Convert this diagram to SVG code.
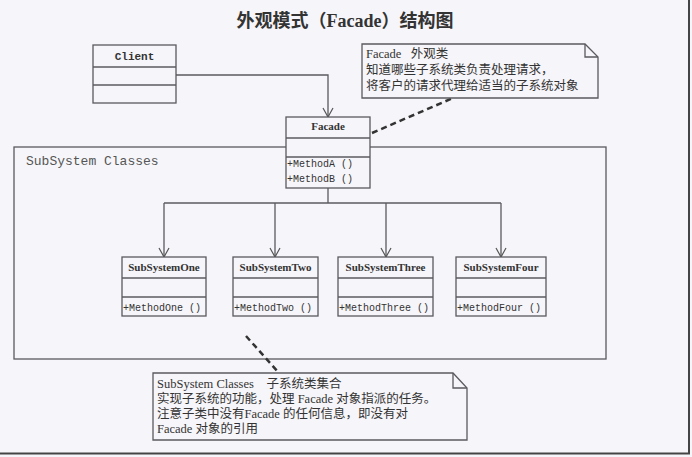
<svg xmlns="http://www.w3.org/2000/svg" width="692" height="457" viewBox="0 0 692 457">
<defs>
<marker id="open" markerWidth="12" markerHeight="12" refX="10" refY="6" orient="auto" markerUnits="userSpaceOnUse">
<path d="M1,1 L10,6 L1,11" fill="none" stroke="#555" stroke-width="1.2"/>
</marker>
<style>
.box{fill:#f6f5f9;stroke:#5a5a5f;stroke-width:1.3}
.ln{fill:none;stroke:#5a5a5f;stroke-width:1.3}
.dash{fill:none;stroke:#333;stroke-width:2.5;stroke-dasharray:6 4}
.name{font-family:"Liberation Serif","Noto Sans CJK SC",serif;font-weight:bold;font-size:11px;fill:#333;text-anchor:middle}
.meth{font-family:"Liberation Mono",monospace;font-size:10px;fill:#333}
.note{font-family:"Liberation Serif","Noto Sans CJK SC",serif;font-size:12.5px;fill:#333;white-space:pre}
.lbl{font-family:"Liberation Mono",monospace;font-size:13px;fill:#555}
.title{font-family:"Liberation Serif","Noto Sans CJK SC",serif;font-weight:bold;font-size:18px;fill:#333;text-anchor:middle}
</style>
</defs>
<rect x="0" y="0" width="692" height="457" fill="#f6f5f9"/>
<line x1="689" y1="0" x2="689" y2="454" stroke="#444" stroke-width="2"/>
<line x1="0" y1="453.5" x2="690" y2="453.5" stroke="#444" stroke-width="2"/>
<text class="title" x="345" y="27">外观模式（Facade）结构图</text>

<g id="subsystem-classes">
<rect class="box" x="14" y="147" width="592" height="212"/>
<text class="lbl" x="26" y="165">SubSystem Classes</text>
</g>

<g id="connectors">
<polyline class="ln" points="176,75 328,75 328,117" marker-end="url(#open)"/>
<polyline class="ln" points="328,188 328,203"/>
<polyline class="ln" points="164,203 501,203"/>
<line class="ln" x1="164" y1="203" x2="164" y2="257" marker-end="url(#open)"/>
<line class="ln" x1="275" y1="203" x2="275" y2="257" marker-end="url(#open)"/>
<line class="ln" x1="386" y1="203" x2="386" y2="257" marker-end="url(#open)"/>
<line class="ln" x1="501" y1="203" x2="501" y2="257" marker-end="url(#open)"/>
<line class="dash" x1="372" y1="133" x2="453" y2="98"/>
<line class="dash" x1="246" y1="336" x2="279" y2="373"/>
</g>

<g id="client">
<rect class="box" x="93" y="45" width="83" height="58"/>
<line class="ln" x1="93" y1="67" x2="176" y2="67"/>
<line class="ln" x1="93" y1="85" x2="176" y2="85"/>
<text class="name" x="134.5" y="60" style="font-family:'Liberation Mono',monospace">Client</text>
</g>

<g id="facade">
<rect class="box" x="286" y="117" width="84" height="71"/>
<line class="ln" x1="286" y1="138" x2="370" y2="138"/>
<line class="ln" x1="286" y1="157" x2="370" y2="157"/>
<text class="name" x="328" y="130">Facade</text>
<text class="meth" x="287" y="167">+MethodA ()</text>
<text class="meth" x="287" y="182">+MethodB ()</text>
</g>

<g id="facade-note">
<path class="box" d="M362,44 H585 L598,57 V98 H362 Z"/>
<polyline class="ln" points="585,44 585,57 598,57"/>
<text class="note" x="366" y="58" xml:space="preserve">Facade   外观类</text>
<text class="note" x="366" y="74">知道哪些子系统类负责处理请求，</text>
<text class="note" x="366" y="90">将客户的请求代理给适当的子系统对象</text>
</g>

<g id="subsystem-one">
<rect class="box" x="122" y="257" width="84" height="59"/>
<line class="ln" x1="122" y1="278" x2="206" y2="278"/>
<line class="ln" x1="122" y1="297" x2="206" y2="297"/>
<text class="name" x="164" y="271">SubSystemOne</text>
<text class="meth" x="123" y="311">+MethodOne ()</text>
</g>

<g id="subsystem-two">
<rect class="box" x="233" y="257" width="85" height="59"/>
<line class="ln" x1="233" y1="278" x2="318" y2="278"/>
<line class="ln" x1="233" y1="297" x2="318" y2="297"/>
<text class="name" x="275.5" y="271">SubSystemTwo</text>
<text class="meth" x="234" y="311">+MethodTwo ()</text>
</g>

<g id="subsystem-three">
<rect class="box" x="338" y="257" width="95" height="59"/>
<line class="ln" x1="338" y1="278" x2="433" y2="278"/>
<line class="ln" x1="338" y1="297" x2="433" y2="297"/>
<text class="name" x="385.5" y="271">SubSystemThree</text>
<text class="meth" x="339" y="311">+MethodThree ()</text>
</g>

<g id="subsystem-four">
<rect class="box" x="456" y="257" width="90" height="59"/>
<line class="ln" x1="456" y1="278" x2="546" y2="278"/>
<line class="ln" x1="456" y1="297" x2="546" y2="297"/>
<text class="name" x="501" y="271">SubSystemFour</text>
<text class="meth" x="457" y="311">+MethodFour ()</text>
</g>

<g id="subsystem-note">
<path class="box" d="M153,373 H453 L467,388 V440 H153 Z"/>
<polyline class="ln" points="453,373 453,388 467,388"/>
<text class="note" x="157" y="388" xml:space="preserve">SubSystem Classes    子系统类集合</text>
<text class="note" x="157" y="403">实现子系统的功能，处理 Facade 对象指派的任务。</text>
<text class="note" x="157" y="418">注意子类中没有Facade 的任何信息，即没有对</text>
<text class="note" x="157" y="433">Facade 对象的引用</text>
</g>
</svg>
